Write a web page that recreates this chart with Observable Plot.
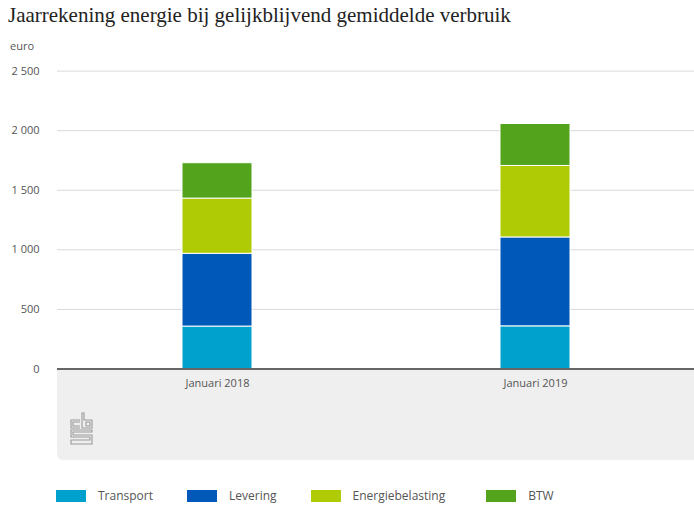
<!DOCTYPE html>
<html>
<head>
<meta charset="utf-8">
<script src="https://cdn.jsdelivr.net/npm/d3@7"></script>
<script src="https://cdn.jsdelivr.net/npm/@observablehq/plot@0.6"></script>
<style>
  html, body { margin: 0; padding: 0; background: #fff; }
  body { width: 694px; height: 513px; position: relative; overflow: hidden; font-family: "Open Sans", sans-serif; }
  #title { position: absolute; left: 8px; top: 3px; font-family: "Liberation Serif", serif; font-size: 21px; color: #222; white-space: nowrap; }
  #unit { position: absolute; left: 10px; top: 38px; font-size: 11px; color: #555; }
  #band { position: absolute; left: 57px; top: 368px; width: 640px; height: 92px; background: #efefef; border-radius: 0 0 0 6px; }
  #logo { position: absolute; left: 70px; top: 412px; }
  #chart { position: absolute; left: 0; top: 35px; }
  #legend { position: absolute; left: 56px; top: 487px; display: flex; font-size: 12px; color: #555; }
  .item { display: flex; align-items: center; margin-right: 34px; }
  .item:nth-child(3) { margin-right: 41px; }
  .sw { width: 30px; height: 12px; margin-right: 12px; }
</style>
</head>
<body>
<div id="title">Jaarrekening energie bij gelijkblijvend gemiddelde verbruik</div>
<div id="unit">euro</div>
<div id="band"></div>
<svg id="logo" width="24" height="34" viewBox="0 0 24 34" fill="none" stroke="#9a9a9a" stroke-width="1.1">
  <path d="M10,8 H1 V16 H10 M10,10 H3 V14 H10"/>
  <path d="M12,1 V16 H22 V8 H14 V1 Z M16,10 H20 V14 H16 Z"/>
  <path d="M22,18 H1 V25 H20 V28 H1 V32 H22 V23 H3 V20 H22 Z"/>
</svg>
<div id="chart"></div>
<div id="legend"></div>
<script>
const periods = ["Januari 2018", "Januari 2019"];
const series = ["Transport", "Levering", "Energiebelasting", "BTW"];
const colors = ["#00a1cd", "#0058b8", "#afcb05", "#53a31d"];
const transport = [356, 358];
const levering = [611, 746];
const energiebelasting = [463, 600];
const btw = [297, 352];
const yTicks = [0, 500, 1000, 1500, 2000, 2500];

const valuesBySeries = [transport, levering, energiebelasting, btw];
const data = [];
series.forEach((s, i) => periods.forEach((p, j) => data.push({period: p, series: s, value: valuesBySeries[i][j]})));

const fmt = d3.formatLocale({decimal: ",", thousands: " ", grouping: [3], currency: ["€", ""]}).format(",d");

const chart = Plot.plot({
  width: 694,
  height: 430,
  marginTop: 35.6,
  marginBottom: 96.5,
  marginLeft: 57,
  marginRight: 0,
  style: {background: "transparent", fontFamily: "Open Sans, sans-serif", fontSize: "11px", color: "#555"},
  x: {domain: periods, paddingInner: 0.78, paddingOuter: 0.39, label: null},
  y: {domain: [0, 2500], label: null},
  color: {domain: series, range: colors},
  marks: [
    Plot.gridY(yTicks, {stroke: "#d9d9d9", strokeOpacity: 1, strokeWidth: 1}),
    Plot.axisY(yTicks, {tickSize: 0, tickPadding: 18, tickFormat: fmt, textAnchor: "end", fill: "#555", label: null}),
    Plot.axisX({tickSize: 0, tickPadding: 10, fill: "#555", label: null}),
    Plot.barY(data, {x: "period", y: "value", fill: "series", order: series, stroke: "#fff", strokeWidth: 1}),
    Plot.ruleY([0], {stroke: "#666", strokeWidth: 2})
  ]
});
document.getElementById("chart").appendChild(chart);

const legend = document.getElementById("legend");
series.forEach((s, i) => {
  const item = document.createElement("div");
  item.className = "item";
  const sw = document.createElement("div");
  sw.className = "sw";
  sw.style.background = colors[i];
  const t = document.createElement("span");
  t.textContent = s;
  item.appendChild(sw);
  item.appendChild(t);
  legend.appendChild(item);
});
</script>
</body>
</html>
